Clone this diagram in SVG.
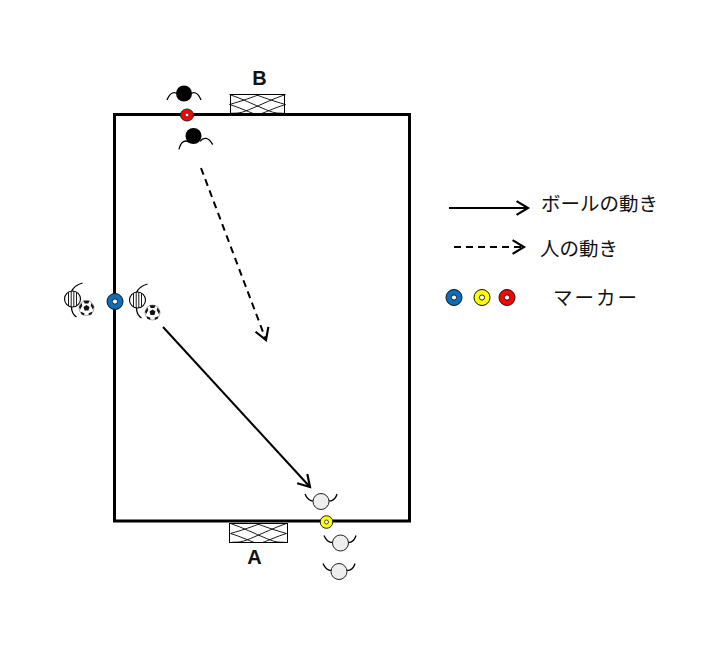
<svg xmlns="http://www.w3.org/2000/svg" width="717" height="657" viewBox="0 0 717 657">
<style>
.line{fill:none;stroke:#000;stroke-linecap:butt}
.arm{fill:none;stroke:#000;stroke-width:1.300}
.net{fill:none;stroke:#000;stroke-width:.9}
.t{font-family:"Noto Sans CJK JP","Liberation Sans",sans-serif;font-size:19.500px;fill:#111}
.l{font-family:"Liberation Sans",sans-serif;font-size:20px;font-weight:bold;fill:#111}
</style>
<defs>
<g id="mk"><circle r="8" stroke="#111" stroke-width="1"/><circle r="2.600" fill="#fff" stroke="#111" stroke-width=".9"/></g>
<g id="ball"><circle r="7.500" fill="#fff" stroke="#999" stroke-width=".9"/><path d="M0 -3L3 -.9L1.900 2.500H-1.900L-3 -.9Z" fill="#111"/><path d="M-3 -7.200L3 -7.200L1.800 -4.600H-1.800ZM5 -5L7.500 -1L6.300 1.500L4.200 -2.500ZM-5 -5L-7.500 -1L-6.300 1.500L-4.200 -2.500ZM-5.800 3.800L-2 5.200L-2.500 7.200L-5.200 6.200ZM5.800 3.800L2 5.200L2.500 7.200L5.200 6.200Z" fill="#111"/></g>
<g id="pu"><path class="arm" d="M-17 6C-14 -2 -9 -3 -5 1M17 6C14 -2 9 -3 5 1"/></g>
<g id="pd"><path class="arm" d="M-16 -8C-13 -1 -8 0 -5 -2M16 -8C14 -1 9 0 5 -2"/></g>
<g id="striped"><path class="arm" d="M10 -16C3 -14 0 -11 -1 -7M-1 8C-1 12 1 16 4 18"/><circle r="8" fill="#fff" stroke="#000" stroke-width="1.100"/><path d="M-4 -6.800V6.800M-1.300 -7.800V7.800M1.300 -7.800V7.800M4 -6.800V6.800" fill="none" stroke="#000" stroke-width=".9"/></g>
<path id="net" d="M0 0C12 4 24 10 36 15S48 18 56 19M56 0C44 4 32 10 20 15S8 18 0 19M0 10C14 6 22 3 30 0M56 10C42 6 34 3 26 0M0 10C10 13 18 17 24 19M56 10C46 13 38 17 32 19" class="net"/>
<marker id="ah" markerUnits="userSpaceOnUse" markerWidth="16" markerHeight="16" refX="11" refY="7" orient="auto" viewBox="0 0 14 14"><path d="M1 1L11 7L1 13" fill="none" stroke="#000" stroke-width="1.900"/></marker>
</defs>
<rect width="717" height="657" fill="#fff"/>
<g id="field"><rect x="114.500" y="114.500" width="295" height="406.500" fill="none" stroke="#000" stroke-width="3"/></g>
<g id="goal-b"><rect x="230.500" y="94.500" width="54" height="19" fill="#fff" stroke="#000"/><use href="#net" x="229.500" y="94.500"/><text class="l" x="259.500" y="85" text-anchor="middle">B</text></g>
<g id="goal-a"><rect x="229.500" y="523.500" width="58" height="19" fill="#fff" stroke="#000"/><use href="#net" x="230.500" y="523.500"/><text class="l" x="254.500" y="564" text-anchor="middle">A</text></g>
<g id="connectors">
<path class="line" stroke-width="2" marker-end="url(#ah)" d="M163 327L310 487"/>
<path class="line" stroke-width="2" stroke-dasharray="7 5" marker-end="url(#ah)" d="M201 168L266 340"/>
<path class="line" stroke-width="2" marker-end="url(#ah)" d="M449 208H528"/>
<path class="line" stroke-width="2" stroke-dasharray="7 5" marker-end="url(#ah)" d="M454 247H524"/>
</g>
<g id="player-black-1"><use href="#pu" x="184" y="94"/><circle cx="184" cy="93.500" r="8" fill="#000"/></g>
<g id="player-black-2"><use href="#pu" x="195" y="141" transform="rotate(-8 195 141)"/><circle cx="193.500" cy="136" r="8" fill="#000"/></g>
<g id="marker-red"><ellipse cx="187" cy="115" rx="6.500" ry="6" fill="#f00" stroke="#222"/><circle cx="187" cy="115" r="1.800" fill="#fff" stroke="#222" stroke-width=".6"/></g>
<g id="player-striped-1"><use href="#striped" x="72.500" y="299"/><use href="#ball" x="86.500" y="308"/></g>
<g id="marker-blue"><use href="#mk" x="115" y="301.500" fill="#0a6ebd"/></g>
<g id="player-striped-2"><use href="#striped" x="137.500" y="300"/><use href="#ball" x="152.500" y="312.500"/></g>
<g id="player-white-1"><use href="#pd" x="321" y="502"/><circle cx="321" cy="501.500" r="8" fill="#eee" stroke="#222"/></g>
<g id="marker-yellow"><circle cx="326.500" cy="522" r="6.300" fill="#ff0" stroke="#222"/><circle cx="326.500" cy="522" r="2" fill="#fff" stroke="#222" stroke-width=".8"/></g>
<g id="player-white-2"><use href="#pd" x="340" y="543.500"/><circle cx="340.500" cy="543" r="8" fill="#eee" stroke="#222"/></g>
<g id="player-white-3"><use href="#pd" x="339" y="571.500"/><circle cx="339" cy="571.500" r="8" fill="#eee" stroke="#222"/></g>
<g id="legend">
<text class="t" x="541" y="210.500">ボールの動き</text>
<text class="t" x="540" y="255.500">人の動き</text>
<text class="t" x="553" y="304.500" textLength="84">マーカー</text>
<use href="#mk" x="454" y="297.500" fill="#0a6ebd"/>
<use href="#mk" x="482" y="297.500" fill="#ff0"/>
<use href="#mk" x="507" y="297.500" fill="#f00"/>
</g>
</svg>
